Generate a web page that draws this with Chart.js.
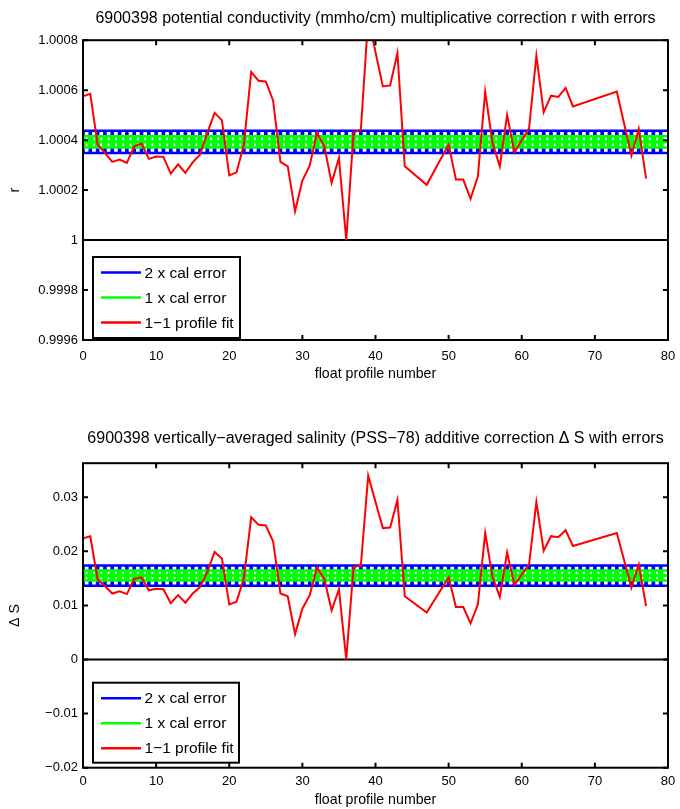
<!DOCTYPE html>
<html>
<head>
<meta charset="utf-8">
<script src="https://cdn.jsdelivr.net/npm/chart.js@4.4.1/dist/chart.umd.min.js"></script>
<style>
  body { margin: 0; background: #fff; }
  #wrap { position: relative; width: 680px; height: 809px; }
  canvas { position: absolute; left: 0; }
</style>
</head>
<body>
<div id="wrap">
  <canvas id="rChart" width="680" height="400" style="top:0"></canvas>
  <canvas id="sChart" width="680" height="409" style="top:400px"></canvas>
</div>
<script>
// profile numbers of the 1-1 fit
const profiles = [0,1,2,3,4,5,6,7,8,9,10,11,12,13,14,15,16,17,18,19,20,21,22,23,24,25,26,27,28,29,
  30,31,32,33,34,35,36,37,38,39,41,42,43,44,47,50,51,52,53,54,55,56,57,58,59,61,62,63,64,65,66,67,73,75,76,77];

// multiplicative correction r (1-1 profile fit)
const rFit = [1.000575,1.000585,1.000382,1.000349,1.000313,1.000322,1.000309,1.000375,1.000386,1.000325,
  1.000334,1.000333,1.000266,1.000303,1.000269,1.000311,1.000342,1.000429,1.000509,1.000479,
  1.000259,1.000271,1.000382,1.000673,1.000638,1.000635,1.000558,1.000313,1.000295,1.000115,
  1.000238,1.000298,1.000429,1.000375,1.000229,1.000329,1.000000,1.000431,1.000442,1.000890,
  1.000615,1.000619,1.000749,1.000295,1.000221,1.000382,1.000242,1.000242,1.000165,1.000255,
  1.000594,1.000389,1.000295,1.000501,1.000351,1.000447,1.000738,1.000511,1.000578,1.000573,
  1.000609,1.000535,1.000594,1.000338,1.000445,1.000246];

// additive correction delta S (1-1 profile fit)
const dSFit = [0.0224,0.0228,0.0148,0.0136,0.0122,0.0126,0.0121,0.0149,0.0152,0.0128,
  0.0131,0.0130,0.0104,0.0119,0.0105,0.0122,0.0134,0.0162,0.0199,0.0187,
  0.0102,0.0107,0.0150,0.0263,0.0249,0.0248,0.0218,0.0122,0.0117,0.0047,
  0.0094,0.0119,0.0170,0.0149,0.0091,0.0130,0.0000,0.0171,0.0174,0.0340,
  0.0243,0.0244,0.0295,0.0117,0.0087,0.0152,0.0097,0.0097,0.0067,0.0102,
  0.0234,0.0153,0.0116,0.0198,0.0138,0.0176,0.0291,0.0201,0.0228,0.0226,
  0.0239,0.0210,0.0234,0.0133,0.0176,0.0099];

// calibration (error bars drawn at every profile)
const calProfiles = [0,1,2,3,4,5,6,7,8,9,10,11,12,13,14,15,16,17,18,19,20,21,22,23,24,25,26,27,28,29,
  30,31,32,33,34,35,36,37,38,39,40,41,42,43,44,45,46,47,48,49,50,51,52,53,54,55,56,57,58,59,
  60,61,62,63,64,65,66,67,68,69,70,71,72,73,74,75,76,77,78,79];
const rCal = 1.000393;
const rCalErr = 0.0000223;
const dSCal = 0.01552;
const dSCalErr = 0.00093;

const xTicks = [0,10,20,30,40,50,60,70,80];
const rTicks = [0.9996,0.9998,1,1.0002,1.0004,1.0006,1.0008];
const rTickLabels = ['0.9996','0.9998','1','1.0002','1.0004','1.0006','1.0008'];
const dSTicks = [-0.02,-0.01,0,0.01,0.02,0.03];
const dSTickLabels = ['\u22120.02','\u22120.01','0','0.01','0.02','0.03'];
const legendLabels = ['2 x cal error','1 x cal error','1\u22121 profile fit'];
const legendColors = ['#0000ff','#00ff00','#ff0000'];

Chart.defaults.font.family = "'Liberation Sans', Arial, Helvetica, sans-serif";
Chart.defaults.color = '#000';

function xy(xs, ys) { return xs.map((x, i) => ({ x: x, y: ys[i] })); }
function band(mean, half) { return calProfiles.map(x => ({ x: x, y: [mean - half, mean + half] })); }
function flat(v) { return [{ x: 0, y: v }, { x: 80, y: v }]; }

// black box with inward ticks, like matlab
const frame = {
  id: 'frame',
  afterDatasetsDraw(chart) {
    const { ctx, chartArea: a, scales } = chart;
    ctx.save();
    ctx.strokeStyle = '#000';
    ctx.lineWidth = 2;
    ctx.strokeRect(a.left, a.top, a.right - a.left, a.bottom - a.top);
    ctx.beginPath();
    scales.x.ticks.forEach(t => {
      const px = scales.x.getPixelForValue(t.value);
      ctx.moveTo(px, a.bottom); ctx.lineTo(px, a.bottom - 5);
      ctx.moveTo(px, a.top); ctx.lineTo(px, a.top + 5);
    });
    scales.y.ticks.forEach(t => {
      const py = scales.y.getPixelForValue(t.value);
      ctx.moveTo(a.left, py); ctx.lineTo(a.left + 5, py);
      ctx.moveTo(a.right, py); ctx.lineTo(a.right - 5, py);
    });
    ctx.stroke();
    ctx.restore();
  }
};

// legend box inside the axes
const boxLegend = {
  id: 'boxLegend',
  afterDraw(chart, args, opts) {
    const ctx = chart.ctx;
    ctx.save();
    ctx.fillStyle = '#fff';
    ctx.fillRect(opts.left, opts.top, opts.width, opts.height);
    ctx.strokeStyle = '#000';
    ctx.lineWidth = 2;
    ctx.strokeRect(opts.left, opts.top, opts.width, opts.height);
    ctx.font = "15.5px 'Liberation Sans', Arial, sans-serif";
    ctx.textBaseline = 'middle';
    legendLabels.forEach((lab, i) => {
      const yy = opts.top + 15.5 + i * 25;
      ctx.strokeStyle = legendColors[i];
      ctx.lineWidth = 2.5;
      ctx.beginPath();
      ctx.moveTo(opts.left + 8, yy); ctx.lineTo(opts.left + 48, yy);
      ctx.stroke();
      ctx.fillStyle = '#000';
      ctx.fillText(lab, opts.left + 51.5, yy + 1);
    });
    ctx.restore();
  }
};

function makeChart(id, o) {
  return new Chart(document.getElementById(id), {
    type: 'line',
    data: {
      datasets: [
        { type: 'bar', data: band(o.mean, 2 * o.err), backgroundColor: '#0000ff', barThickness: 3, grouped: false, order: 7 },
        { data: flat(o.mean + 2 * o.err), borderColor: '#0000ff', borderWidth: 2.5, pointRadius: 0, order: 6 },
        { data: flat(o.mean - 2 * o.err), borderColor: '#0000ff', borderWidth: 2.5, pointRadius: 0, order: 6 },
        { type: 'bar', data: band(o.mean, o.err), backgroundColor: '#00ff00', barThickness: 5, grouped: false, order: 5 },
        { data: flat(o.mean + o.err), borderColor: '#00ff00', borderWidth: 2.5, pointRadius: 0, order: 4 },
        { data: flat(o.mean - o.err), borderColor: '#00ff00', borderWidth: 2.5, pointRadius: 0, order: 4 },
        { data: flat(o.mean), borderColor: '#00ff00', borderWidth: 3, pointRadius: 0, order: 4 },
        { data: flat(o.base), borderColor: '#000', borderWidth: 2, pointRadius: 0, order: 2 },
        { label: legendLabels[2], data: xy(profiles, o.fit), borderColor: '#ff0000', borderWidth: 2, pointRadius: 0, tension: 0, order: 1 }
      ]
    },
    options: {
      responsive: false,
      animation: false,
      events: [],
      layout: { padding: { left: 0, right: 12, top: 0, bottom: 0 } },
      plugins: {
        legend: { display: false },
        tooltip: { enabled: false },
        title: { display: true, fullSize: false, text: o.title, color: '#000', font: { size: 16, weight: 'normal' }, padding: o.titlePad },
        boxLegend: o.legend
      },
      scales: {
        x: {
          type: 'linear', min: 0, max: 80, offset: false,
          afterBuildTicks: s => { s.ticks = xTicks.map(v => ({ value: v })); },
          afterFit: s => { s.height = o.xHeight; s.paddingLeft = 0; s.paddingRight = 0; },
          grid: { display: false, drawTicks: false }, border: { display: false },
          ticks: { font: { size: 13 }, padding: o.xTickPad, maxRotation: 0 },
          title: { display: true, text: 'float profile number', font: { size: 14.2 }, padding: { top: 0, bottom: o.xTitlePad } }
        },
        y: {
          type: 'linear', min: o.ymin, max: o.ymax,
          afterBuildTicks: s => { s.ticks = o.yTicks.map(v => ({ value: v })); },
          afterFit: s => { s.width = 83; },
          grid: { display: false, drawTicks: false }, border: { display: false },
          ticks: { font: { size: 13 }, padding: 5, callback: (v, i) => o.yLabels[i] },
          title: { display: true, text: o.yTitle, font: { size: 14.2 }, padding: { top: 7, bottom: 0 } }
        }
      }
    },
    plugins: [frame, boxLegend]
  });
}

makeChart('rChart', {
  title: '6900398 potential conductivity (mmho/cm) multiplicative correction r with errors',
  titlePad: { top: 9, bottom: 12 },
  fit: rFit, mean: rCal, err: rCalErr, base: 1,
  ymin: 0.9996, ymax: 1.0008, yTicks: rTicks, yLabels: rTickLabels, yTitle: 'r',
  xHeight: 60, xTickPad: 9, xTitlePad: 17,
  legend: { left: 93, top: 257, width: 147, height: 81 }
});

makeChart('sChart', {
  title: '6900398 vertically\u2212averaged salinity (PSS\u221278) additive correction \u0394 S with errors',
  titlePad: { top: 28.5, bottom: 15.5 },
  fit: dSFit, mean: dSCal, err: dSCalErr, base: 0,
  ymin: -0.02, ymax: 0.0363, yTicks: dSTicks, yLabels: dSTickLabels, yTitle: '\u0394 S',
  xHeight: 41.3, xTickPad: 6, xTitlePad: 0.5,
  legend: { left: 93, top: 282.7, width: 146, height: 80 }
});
</script>
</body>
</html>
